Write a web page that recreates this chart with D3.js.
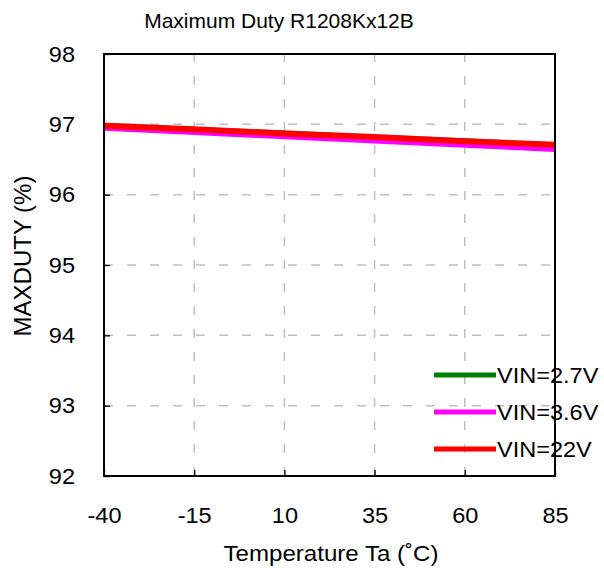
<!DOCTYPE html>
<html>
<head>
<meta charset="utf-8">
<script src="https://cdn.jsdelivr.net/npm/d3@7"></script>
<style>
  html, body { margin: 0; padding: 0; background: #fff; }
  svg { display: block; font-family: "Liberation Sans", Arial, sans-serif; }
</style>
</head>
<body>
<svg id="chart" width="604" height="568"></svg>
<script>
const temperatures = [-40, -15, 10, 35, 60, 85];
const xTickValues = [-40, -15, 10, 35, 60, 85];
const yTickValues = [92, 93, 94, 95, 96, 97, 98];
const seriesNames = ["VIN=2.7V", "VIN=3.6V", "VIN=22V"];
const seriesColors = ["#008000", "#ff00ff", "#ff0000"];
const vin27 = [96.98, 96.92, 96.87, 96.81, 96.76, 96.70];
const vin36 = [96.95, 96.89, 96.83, 96.77, 96.71, 96.65];
const vin22 = [96.98, 96.93, 96.87, 96.82, 96.76, 96.71];
const seriesValues = [vin27, vin36, vin22];

const svg = d3.select("#chart");
const L = 104, R = 555, T = 54, B = 476;
const SX = 1.07;

const x = d3.scaleLinear().domain([-40, 85]).range([L, R]);
const y = d3.scaleLinear().domain([92, 98]).range([B, T]);

// grid
const grid = svg.append("g").attr("stroke", "#c0c0c0").attr("stroke-width", 1.5).attr("stroke-dasharray", "9,14");
grid.selectAll(".gx").data(xTickValues.slice(1, -1)).enter().append("line")
  .attr("x1", d => x(d)).attr("x2", d => x(d)).attr("y1", B).attr("y2", T);
grid.selectAll(".gy").data(yTickValues.slice(1, -1)).enter().append("line")
  .attr("x1", L).attr("x2", R).attr("y1", d => y(d)).attr("y2", d => y(d));

// axes
const fmt = d => String(d);
const xAxis = svg.append("g").attr("transform", `translate(0,${B})`)
  .call(d3.axisBottom(x).tickValues(xTickValues).tickSize(-6).tickPadding(31).tickFormat(fmt));
const yAxis = svg.append("g").attr("transform", `translate(${L},0)`)
  .call(d3.axisLeft(y).tickValues(yTickValues).tickSize(-6).tickPadding(29 / SX).tickFormat(fmt));
[xAxis, yAxis].forEach(a => {
  a.select(".domain").remove();
  a.selectAll(".tick line").attr("stroke", "#000").attr("stroke-width", 1.3);
  a.selectAll("text").attr("fill", "#000").style("font-size", "22px")
    .style("font-family", "'Liberation Sans', Arial, sans-serif")
    .attr("transform", `scale(${SX},1)`);
});

// lines
const line = d3.line().x((d, i) => x(temperatures[i])).y(d => y(d));
seriesValues.forEach((vals, k) => {
  svg.append("path").datum(vals).attr("d", line)
    .attr("fill", "none").attr("stroke", seriesColors[k]).attr("stroke-width", 6);
});

// frame
svg.append("rect").attr("x", L).attr("y", T).attr("width", R - L).attr("height", B - T)
  .attr("fill", "none").attr("stroke", "#000").attr("stroke-width", 2);

// legend
const legendY = [375, 412, 449];
seriesNames.forEach((name, k) => {
  svg.append("line").attr("x1", 434).attr("x2", 496).attr("y1", legendY[k]).attr("y2", legendY[k])
    .attr("stroke", seriesColors[k]).attr("stroke-width", 5);
  svg.append("text").attr("transform", `translate(497,${legendY[k] + 7.5}) scale(${SX},1)`)
    .style("font-size", "22px").attr("fill", "#000").text(name);
});

// titles
svg.append("text").attr("x", 279).attr("y", 28).attr("text-anchor", "middle")
  .style("font-size", "21px").attr("fill", "#000").text("Maximum Duty R1208Kx12B");
svg.append("text").attr("transform", `translate(331,561) scale(${SX},1)`).attr("text-anchor", "middle")
  .style("font-size", "22.5px").attr("fill", "#000").text("Temperature Ta (˚C)");
svg.append("text").attr("transform", "translate(31,256) rotate(-90)").attr("text-anchor", "middle")
  .style("font-size", "24px").attr("fill", "#000").text("MAXDUTY (%)");
</script>
</body>
</html>
